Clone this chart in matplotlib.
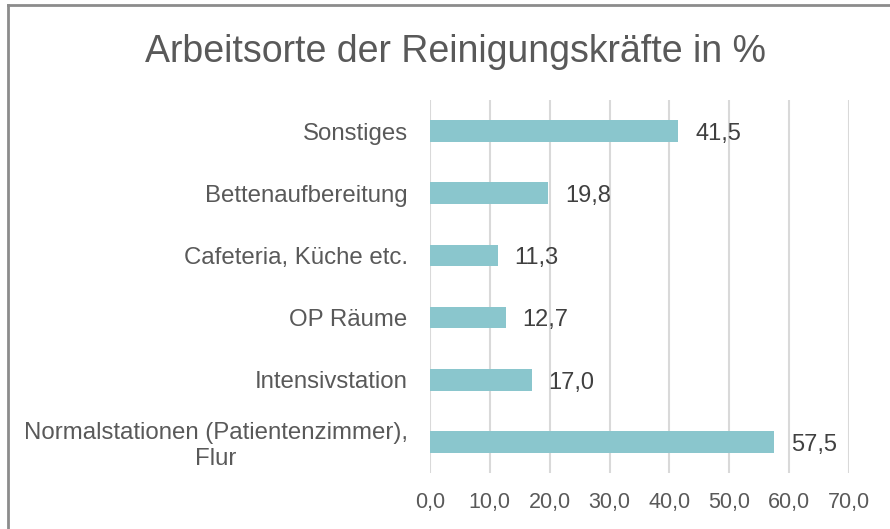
import matplotlib
matplotlib.use('Agg')
import matplotlib.pyplot as plt
from matplotlib.lines import Line2D

categories = [
    'Normalstationen (Patientenzimmer),\nFlur',
    'Intensivstation',
    'OP Räume',
    'Cafeteria, Küche etc.',
    'Bettenaufbereitung',
    'Sonstiges',
]
values = [57.5, 17.0, 12.7, 11.3, 19.8, 41.5]
x_ticks = [0, 10, 20, 30, 40, 50, 60, 70]

plt.rcParams['font.family'] = ['Liberation Sans', 'DejaVu Sans']

fig = plt.figure(figsize=(8.9, 5.29), dpi=100)
ax = fig.add_axes([0.4831, 0.1059, 0.4708, 0.7051])

pos = range(len(categories))
ax.barh(pos, values, height=0.35, color='#8AC6CD', zorder=3)

for p, v in zip(pos, values):
    ax.annotate(f'{v:.1f}'.replace('.', ','), (v, p), xytext=(12, -2),
                textcoords='offset points', va='center', ha='left',
                fontsize=17, color='#404040')

ax.set_xlim(0, 70)
ax.set_ylim(-0.5, len(categories) - 0.5)
ax.set_xticks(x_ticks)
ax.set_xticklabels([f'{t:.1f}'.replace('.', ',') for t in x_ticks])
ax.set_yticks(list(pos))
ax.set_yticklabels(categories, multialignment='center')
ax.tick_params(axis='both', length=0, labelcolor='#595959')
ax.tick_params(axis='y', pad=16, labelsize=17.3)
ax.tick_params(axis='x', pad=14, labelsize=15.5)
ax.grid(axis='x', color='#D9D9D9', linewidth=1.5, zorder=0)
for s in ax.spines.values():
    s.set_visible(False)

fig.text(456 / 890, 1 - 62 / 529, 'Arbeitsorte der Reinigungskräfte in %',
         ha='center', va='baseline', fontsize=27, color='#595959')

# Rahmen (nur links und oben sichtbar)
fig.add_artist(Line2D([7.5 / 890, 7.5 / 890], [0, 1 - 4.5 / 529],
                      transform=fig.transFigure, color='#8C8C8C', linewidth=2))
fig.add_artist(Line2D([7.5 / 890, 1], [1 - 4.5 / 529, 1 - 4.5 / 529],
                      transform=fig.transFigure, color='#8C8C8C', linewidth=2))

fig.savefig('out.png', dpi=100)
